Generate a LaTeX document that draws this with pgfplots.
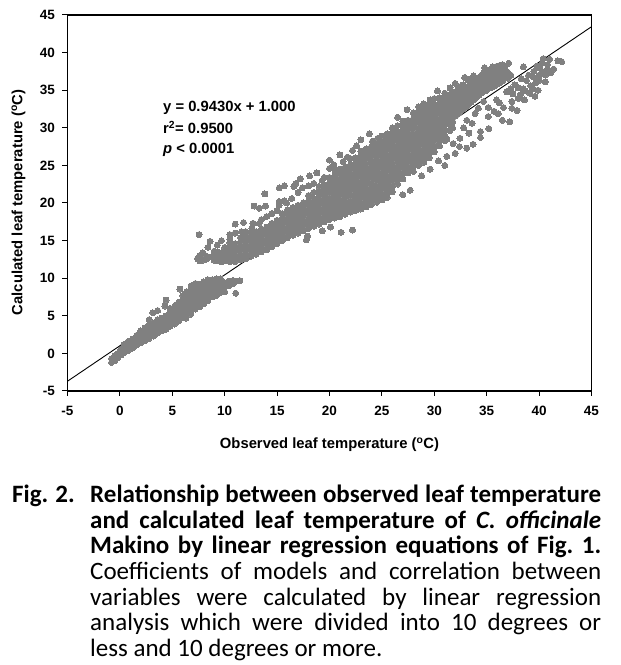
\documentclass[border=0pt]{standalone}
\usepackage{pgfplots}
\pgfplotsset{compat=1.18}
\usepackage{fontspec}
\setmainfont{Liberation Sans}
\newfontfamily\capfont{Carlito}
\definecolor{dotgray}{RGB}{128,128,128}
\begin{document}
\begin{tikzpicture}[x=1pt,y=1pt]
\path[use as bounding box] (0,0) rectangle (621,665);
\begin{axis}[
  at={(67.5pt,274pt)},anchor=south west,
  scale only axis,width=524pt,height=376pt,
  xmin=-5,xmax=45,ymin=-5,ymax=45,
  xtick={-5,0,...,45},ytick={-5,0,...,45},
  tick align=outside,xtick pos=bottom,ytick pos=left,
  major tick length=5pt,
  axis line style={line width=1.3pt},
  tick style={line width=1pt,black},
  every tick label/.append style={font=\bfseries\fontsize{13.5}{15}\selectfont},
  xticklabel style={yshift=-7pt},
  yticklabel style={xshift=-4pt},
  /pgf/number format/assume math mode=true,
  xlabel={\bfseries\fontsize{14.8}{16}\selectfont Observed leaf temperature (\textsuperscript{o}C)},
  ylabel={\bfseries\fontsize{14.8}{16}\selectfont Calculated leaf temperature (\textsuperscript{o}C)},
  x label style={at={(axis description cs:0.5,-0.1436)},anchor=center},
  y label style={at={(axis description cs:-0.0935,0.502)},anchor=center},
  clip=true,
]
\addplot[black,line width=0.9pt] coordinates {(-5,-3.7)(45,43.44)};
\addplot[only marks,mark=*,mark size=3pt,color=dotgray,mark options={fill=dotgray,draw=dotgray,line width=0pt}] coordinates {
(-0.8,-1.2)(-0.8,-0.7)(-0.5,-1)(-0.5,-0.3)(-0.2,-0.6)(-0.2,0)(0.1,-0.2)(0.1,0.5)(0.4,0.1)(0.4,0.8)(0.4,1.2)
(0.8,0.4)(0.8,1)(0.8,1.6)(1.2,0.7)(1.2,1.3)(1.2,1.9)(1.6,1.1)(1.6,1.7)(1.6,2.4)(2,1.4)(2,2)(2,2.7)(2,3)
(2.4,1.7)(2.4,2.3)(2.4,2.9)(2.4,3.4)(2.8,2)(2.8,2.6)(2.8,3.2)(2.8,3.8)(2.8,4.5)(3.2,2.3)(3.2,2.9)(3.2,3.5)(3.2,4)(3.15,5.4)
(3.6,2.7)(3.6,3.3)(3.6,3.9)(3.6,4.5)(3.6,5.7)(4,3)(4,3.6)(4,4.2)(4,4.7)(4.3,6.3)(4.4,7.1)(4.4,3.2)(4.4,3.8)(4.4,4.4)(4.4,5)
(4.8,3.6)(4.8,4.2)(4.8,4.8)(4.8,5.4)(4.8,6)(5.2,3.9)(5.2,4.5)(5.2,5.1)(5.2,5.7)(5.3,6.4)(5.6,4.3)(5.6,4.9)(5.6,5.5)(5.6,6.1)(5.6,6.8)(5.73,8.56)
(6,4.8)(6,5.4)(6,6)(6,6.6)(6,7.2)(6,7.7)(6.3,4.7)(6.75,5.2)(6.4,5.3)(6.4,5.8)(6.4,6.4)(6.4,7)(6.4,7.6)(6.4,8.2)
(6.8,5.6)(6.8,6.2)(6.8,6.8)(6.8,7.4)(6.8,8)(6.8,8.6)(6.8,9)(7.2,5.9)(7.2,6.5)(7.2,7.1)(7.2,7.7)(7.2,8.3)(7.2,8.9)(7.2,9.3)
(7.6,6.2)(7.6,6.8)(7.6,7.4)(7.6,8)(7.6,8.6)(7.6,9.2)(8,6.6)(8,7.2)(8,7.8)(8,8.4)(8,9)(8,9.5)(8.4,7)(8.4,7.6)(8.4,8.2)(8.4,8.8)(8.4,9.4)(8.4,9.8)
(8.8,7.5)(8.8,8.1)(8.8,8.7)(8.8,9.3)(8.8,9.8)(9.2,7.7)(9.2,8.3)(9.2,8.9)(9.2,9.5)(9.2,9.9)(9.6,8.1)(9.6,8.7)(9.6,9.3)(9.6,9.9)
(10,8.2)(10,8.8)(10,9.4)(10.4,9)(10.4,9.6)(10.8,9.3)(10.8,9.7)(11.05,8)(11.1,9.6)(11.46,9.67)
(7.55,15.8)(7.4,12.6)(7.6,12.3)(7.6,13)(7.9,13.4)(7.9,12.4)(8.2,12.5)(8.2,13)(8.5,12.8)(8.4,14.1)(8.6,14.9)
(9,12.4)(9,13)(9,13.6)(9.3,12.3)(9.3,12.9)(9.3,13.5)(9.3,14.4)(9.7,12.2)(9.7,12.8)(9.7,13.4)(9.7,15)
(10,12.3)(10,12.9)(10,13.5)(10,14.1)(10.5,12.2)(10.5,12.8)(10.5,13.4)(10.5,14)(10.5,14.7)(10.5,15.2)(10.5,15.8)
(11,12.2)(11,12.8)(11,13.4)(11,14)(11,14.6)(11,16)(11,17.2)(11.5,12.4)(11.5,13)(11.5,13.6)(11.5,14.2)(11.5,14.8)(11.5,15.4)(11.6,16.2)(11.8,17.4)
(12,12.6)(12,13.2)(12,13.8)(12,14.4)(12,15)(12,15.6)(12,16.2)(12.5,12.9)(12.5,13.5)(12.5,14.1)(12.5,14.7)(12.5,15.3)(12.5,15.9)(12.6,16.6)(12.7,17.3)
(12.8,19.6)(13.3,19.3)(13.9,19.6)(13.84,21.2)(13.3,17.3)
(13,13.2)(13,13.8)(13,14.4)(13,15)(13,15.6)(13,16.2)(13.5,13.5)(13.5,14.1)(13.5,14.7)(13.5,15.3)(13.5,15.9)(13.5,16.5)(13.5,17.8)
(14,13.8)(14,14.4)(14,15)(14,15.6)(14,16.2)(14,16.8)(14,18.2)(14.5,14.2)(14.5,14.8)(14.5,15.4)(14.5,16)(14.5,16.6)(14.5,17.3)(14.5,18.6)
(15,14.6)(15,15.2)(15,15.8)(15,16.4)(15,17)(15,17.7)(15,19)(15.2,19.7)(15.2,20.2)(15.2,22)(15.7,22.3)
(15.5,15)(15.5,15.6)(15.5,16.2)(15.5,16.8)(15.5,17.4)(15.5,18)(15.5,18.6)(15.9,20)(15.7,20.3)
(16,15.4)(16,16)(16,16.6)(16,17.2)(16,17.8)(16,18.4)(16,19.1)(16.5,15.7)(16.5,16.3)(16.5,16.9)(16.5,17.5)(16.5,18.1)(16.5,18.7)(16.5,19.4)(16.4,20.6)(16.6,22.2)
(17,16)(17,16.6)(17,17.2)(17,17.8)(17,18.4)(17,19)(17,19.7)(17,21.4)(17.2,23.2)(16.8,22.6)(17.5,16.3)(17.5,16.9)(17.5,17.5)(17.5,18.1)(17.5,18.7)(17.5,19.3)(17.5,20)(17.4,22)
(17.8,15.1)(17.9,15.6)(18,16.6)(18,17.2)(18,17.8)(18,18.4)(18,19)(18,19.6)(18,20.3)(18,21)(18.1,23.6)(18,22.3)
(18.5,16.9)(18.5,17.5)(18.5,18.1)(18.5,18.7)(18.5,19.3)(18.5,19.9)(18.5,20.6)(18.5,21.4)(18.5,22.6)(18.8,24)
(19,17.2)(19,17.8)(19,18.4)(19,19)(19,19.6)(19,20.2)(19,20.8)(19,21.5)(19,22.2)(19.3,16.3)(19.3,23)
(19.5,17.5)(19.5,18.1)(19.5,18.7)(19.5,19.3)(19.5,19.9)(19.5,20.5)(19.5,21.1)(19.5,21.7)(19.5,22.4)(19.5,23.4)(20.1,16.8)
(20,17.8)(20,18.5)(20,19.2)(20,19.9)(20,20.6)(20,21.3)(20,22)(20,22.7)(20,23.4)(20,24.6)(20,25.7)
(20.5,18)(20.5,18.7)(20.5,19.4)(20.5,20.1)(20.5,20.8)(20.5,21.5)(20.5,22.2)(20.5,22.9)(20.5,23.6)(20.5,24.4)(20.4,25.1)
(21,18.2)(21,18.9)(21,19.6)(21,20.3)(21,21)(21,21.7)(21,22.4)(21,23.1)(21,23.8)(21,24.5)(21,26.4)(21.1,16.1)(21.3,25.5)
(21.5,18.5)(21.5,19.2)(21.5,19.9)(21.5,20.6)(21.5,21.3)(21.5,22)(21.5,22.7)(21.5,23.4)(21.5,24.1)(21.5,24.8)(21.7,26.1)
(22,18.8)(22,19.5)(22,20.2)(22,20.9)(22,21.6)(22,22.3)(22,23)(22,23.7)(22,24.4)(22,25.1)(22,25.9)(22.2,16.4)(22.2,27)
(22.5,19)(22.5,19.7)(22.5,20.4)(22.5,21.1)(22.5,21.8)(22.5,22.5)(22.5,23.2)(22.5,23.9)(22.5,24.6)(22.5,25.3)(22.5,26)(22.6,27.6)
(23,19.2)(23,19.9)(23,20.6)(23,21.3)(23,22)(23,22.7)(23,23.4)(23,24.1)(23,24.8)(23,25.5)(23,26.2)(23,26.9)(23,28.4)
(23.5,19.5)(23.5,20.2)(23.5,20.9)(23.5,21.6)(23.5,22.3)(23.5,23)(23.5,23.7)(23.5,24.4)(23.5,25.1)(23.5,25.8)(23.5,26.5)(23.5,27.2)(23.8,29.2)
(24,19.8)(24,20.5)(24,21.2)(24,21.9)(24,22.6)(24,23.3)(24,24)(24,24.7)(24,25.4)(24,26.1)(24,26.8)(24,27.5)(24.1,28.2)
(24.5,20.1)(24.5,20.8)(24.5,21.5)(24.5,22.2)(24.5,22.9)(24.5,23.6)(24.5,24.3)(24.5,25)(24.5,25.7)(24.5,26.4)(24.5,27.1)(24.5,27.8)(24.6,28.6)
(25,20.4)(25,21.1)(25,21.8)(25,22.5)(25,23.2)(25,23.9)(25,24.6)(25,25.3)(25,26)(25,26.7)(25,27.4)(25,28.1)(25,28.9)
(25.5,20.7)(25.5,21.4)(25.5,22.1)(25.5,22.8)(25.5,23.5)(25.5,24.2)(25.5,24.9)(25.5,25.6)(25.5,26.3)(25.5,27)(25.5,27.7)(25.5,28.4)(25.5,29.2)
(26,21.5)(26,22.2)(26,22.9)(26,23.6)(26,24.3)(26,25)(26,25.7)(26,26.4)(26,27.1)(26,27.8)(26,28.5)(26,29.2)(26,30)
(26.5,22.5)(26.5,23.2)(26.5,23.9)(26.5,24.6)(26.5,25.3)(26.5,26)(26.5,26.7)(26.5,27.4)(26.5,28.1)(26.5,28.8)(26.5,29.5)(26.5,30.3)(26.5,31.4)
(27,21.1)(27,23.2)(27,23.9)(27,24.6)(27,25.3)(27,26)(27,26.7)(27,27.4)(27,28.1)(27,28.8)(27,29.5)(27,30.2)(27,30.9)
(27.4,32.4)(27.5,24)(27.5,24.7)(27.5,25.4)(27.5,26.1)(27.5,26.8)(27.5,27.5)(27.5,28.2)(27.5,28.9)(27.5,29.6)(27.5,30.3)(27.5,31)(27.7,21.7)
(28,24.2)(28,24.9)(28,25.6)(28,26.3)(28,27)(28,27.7)(28,28.4)(28,29.1)(28,29.8)(28,30.5)(28,31.2)(28,32)
(28.5,25)(28.5,25.7)(28.5,26.4)(28.5,27.1)(28.5,27.8)(28.5,28.5)(28.5,29.2)(28.5,29.9)(28.5,30.6)(28.5,31.3)(28.5,32)(28.5,32.8)(28.8,23.6)
(29,25.4)(29,26.1)(29,26.8)(29,27.5)(29,28.2)(29,28.9)(29,29.6)(29,30.3)(29,31)(29,31.7)(29,32.4)(29,33.2)
(29.5,26)(29.5,26.7)(29.5,27.4)(29.5,28.1)(29.5,28.8)(29.5,29.5)(29.5,30.2)(29.5,30.9)(29.5,31.6)(29.5,32.3)(29.5,33)(29.6,33.7)(29.6,24.5)
(30,26.8)(30,27.5)(30,28.2)(30,28.9)(30,29.6)(30,30.3)(30,31)(30,31.7)(30,32.4)(30,33.1)(30,33.9)(30.3,34.9)(30.4,25.6)
(30.5,27.6)(30.5,28.3)(30.5,29)(30.5,29.7)(30.5,30.4)(30.5,31.1)(30.5,31.8)(30.5,32.5)(30.5,33.2)(30.5,34)(31,25)(31.2,26.2)(31.2,28.5)
(31,28.3)(31,29)(31,29.7)(31,30.4)(31,31.1)(31,31.8)(31,32.5)(31,33.2)(31,33.9)(31,34.6)(31.5,29.6)(31.5,30.4)(31.5,31.2)(31.5,32)(31.5,32.8)(31.5,33.6)(31.5,34.4)(31.5,35.3)
(31.8,27.9)(32,26.6)(32.45,28.6)(32.4,27.5)(32,31.6)(32,32.4)(32,33.2)(32,34)(32,34.8)(32,35.9)(32.5,32.2)(32.5,33)(32.5,33.8)(32.5,34.6)(32.5,35.5)
(33.1,31)(33.3,29.3)(33.7,27.8)(33.1,27.3)(33,32.8)(33,33.6)(33,34.4)(33,35.2)(32.9,36.7)(33.5,33.4)(33.5,34.2)(33.5,35)(33.5,35.8)(33.5,36.5)
(33.9,31.9)(34.4,29.5)(34.4,28.7)(34.7,33.5)(34,34)(34,34.8)(34,35.6)(34,36.6)(34.5,34.6)(34.5,35.4)(34.5,36.2)(34.5,37)(34.8,38)
(35.15,31.5)(35.15,32.7)(35.2,29.9)(35,35)(35,35.8)(35,36.6)(35,37.4)(35.5,35.4)(35.5,36.2)(35.5,37)(35.6,38.1)(35.95,33.7)
(36,35.8)(36,36.6)(36,37.4)(36,38.2)(36.5,31)(36.6,32.7)(36.5,36.2)(36.5,37)(36.5,37.8)(36.5,38.4)(36.2,33.3)(36.9,34.8)
(37.2,30.8)(37.4,32.6)(37.4,33.5)(37.5,34.5)(37,36.6)(37,37.4)(37.1,38.6)(37.3,37)(37.3,35.2)(37.9,32.3)(37.7,35.7)
(38.2,34.4)(38.5,35.2)(38.8,36.3)(38.5,38.1)(38.3,36.5)(38,35.3)(39.1,34.6)(39.6,34.2)(39.2,35.6)(39.4,36.8)(39,37)
(39.5,37.5)(39.7,36)(39.8,38.2)(40,37)(40,36.3)(40,38)(40.3,37.5)(40.3,38.6)(40.4,39.2)(40.6,36.1)(40.6,37)(40.8,37.8)(40.8,38.4)(41,39.1)(41.1,37.3)(41.4,37.8)(41.8,38.9)(42.15,38.8)
(31.75,30)(31.75,30.8)(31.75,31.6)(31.75,32.4)(31.75,33.2)(31.75,34)(31.75,34.8)
(32.25,31.9)(32.25,32.7)(32.25,33.5)(32.25,34.3)(32.25,35.1)(32.75,32.5)(32.75,33.3)(32.75,34.1)(32.75,34.9)(32.75,35.7)
(33.25,33.1)(33.25,33.9)(33.25,34.7)(33.25,35.5)(33.25,36.3)(33.75,33.7)(33.75,34.5)(33.75,35.3)(33.75,36.1)(33.75,36.9)
(34.25,34.3)(34.25,35.1)(34.25,35.9)(34.25,36.7)(34.75,34.9)(34.75,35.7)(34.75,36.5)(34.75,37.3)
(35.25,35.3)(35.25,36.1)(35.25,36.9)(35.25,37.7)(35.75,35.6)(35.75,36.4)(35.75,37.2)(35.75,38)
(36.25,36)(36.25,36.8)(36.25,37.6)(36.25,38.3)(36.75,36.6)(36.75,37.4)(36.75,38.2)
(32.8,30)(33.6,30.6)(34.2,32.6)(35.7,32.2)(36.1,31.9)(38.6,33.7)(38,33.9)(38.7,34.9)(39.4,35.2)(39.9,35)
};
\node[anchor=west,font=\bfseries\fontsize{14.8}{16}\selectfont,inner sep=0pt] at (axis cs:4.11,32.6) {y = 0.9430x + 1.000};
\node[anchor=west,font=\bfseries\fontsize{14.8}{16}\selectfont,inner sep=0pt] at (axis cs:4.11,30.0) {r\textsuperscript{2}= 0.9500};
\node[anchor=west,font=\bfseries\fontsize{14.8}{16}\selectfont,inner sep=0pt] at (axis cs:4.11,27.1) {\itshape p\upshape\ < 0.0001};
\end{axis}
\node[anchor=north west,inner sep=0pt,font=\capfont\bfseries\fontsize{25}{25.6}\selectfont] at (12,665-485) {Fig.\hspace{7pt}2.};
\node[anchor=north west,inner sep=0pt,text width=511pt,align=justify,font=\capfont\fontsize{25}{25.6}\selectfont] at (90,665-485) {%
{\bfseries Relationship between observed leaf temperature\linebreak
and calculated leaf temperature of \textit{C. officinale}\linebreak
Makino by linear regression equations of Fig.~1.}\linebreak
Coefficients of models and correlation between\linebreak
variables were calculated by linear regression\linebreak
analysis which were divided into 10 degrees or\linebreak
less and 10 degrees or more.};
\end{tikzpicture}
\end{document}
